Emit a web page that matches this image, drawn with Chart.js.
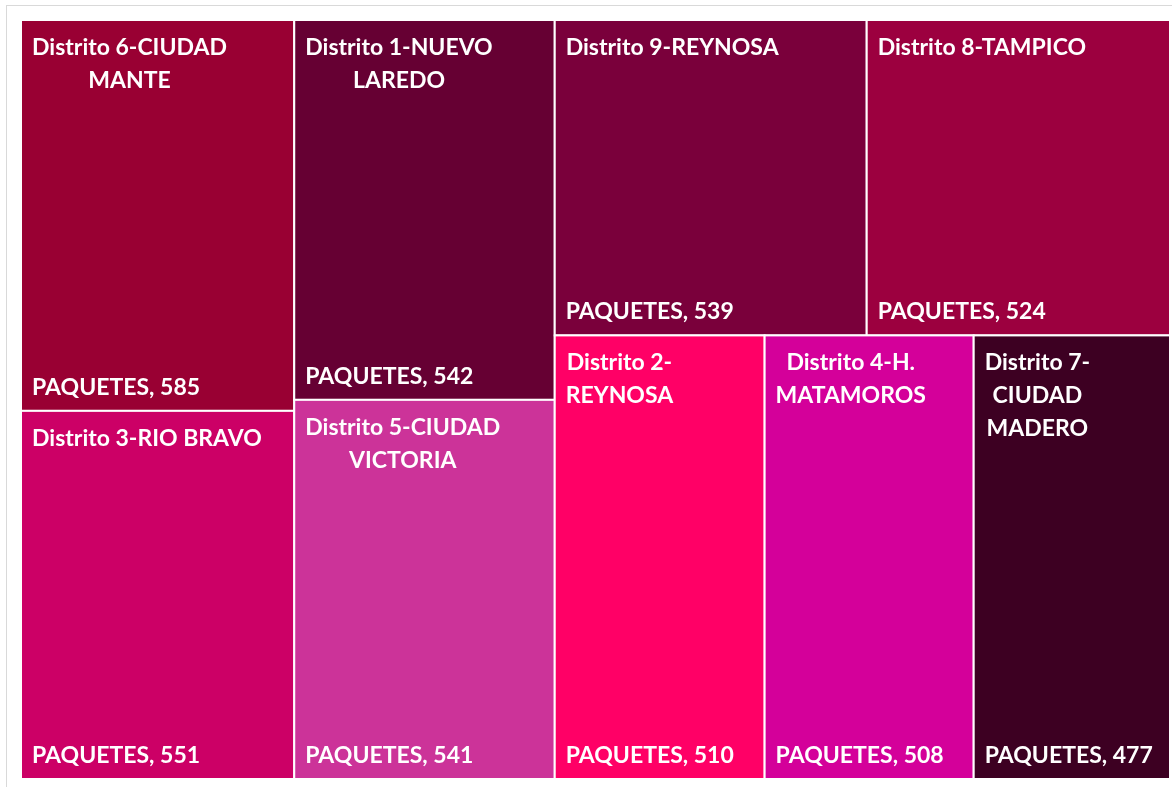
<!DOCTYPE html>
<html>
<head>
<meta charset="utf-8">
<script src="https://cdn.jsdelivr.net/npm/chart.js@4/dist/chart.umd.min.js"></script>
<style>
    html, body { margin: 0; padding: 0; background: #fff; }
    #frame { position: absolute; left: 6px; top: 5px; width: 1200px; height: 800px; border: 1px solid #d9d9d9; }
    #wrap { position: absolute; left: 0; top: 0; width: 1172px; height: 787px; }
</style>
</head>
<body>
<div id="frame"></div>
<div id="wrap"><canvas id="treemap"></canvas></div>
<script>
// data
const districts = [
    'Distrito 6-CIUDAD MANTE',
    'Distrito 3-RIO BRAVO',
    'Distrito 1-NUEVO LAREDO',
    'Distrito 5-CIUDAD VICTORIA',
    'Distrito 9-REYNOSA',
    'Distrito 8-TAMPICO',
    'Distrito 2-REYNOSA',
    'Distrito 4-H. MATAMOROS',
    'Distrito 7-CIUDAD MADERO'
];
const paquetes = [585, 551, 542, 541, 539, 524, 510, 508, 477];
const seriesName = 'PAQUETES';
const cellColors = ['#990033', '#cc0066', '#660033', '#cc3399', '#7a003b', '#9c003f', '#ff0066', '#d4009a', '#3d0022'];

const FONT = 'bold 23px Lato, "Open Sans", sans-serif';

// squarified layout, worked out in pixel units of the chart area
function squarify(values, W, H) {
    const total = values.reduce((a, b) => a + b, 0);
    const items = values.map((v, i) => ({ i: i, a: v * W * H / total }))
        .sort((p, q) => q.a - p.a);
    const out = [];
    let rect = { x: 0, y: 0, w: W, h: H };
    let k = 0;

    function worst(row, side) {
        const s = row.reduce((a, r) => a + r.a, 0);
        const mx = Math.max(...row.map(r => r.a));
        const mn = Math.min(...row.map(r => r.a));
        return Math.max(side * side * mx / (s * s), (s * s) / (side * side * mn));
    }

    while (k < items.length) {
        const left = items.length - k;
        let row, alongLong = false;
        if (left <= 3) {
            // last few cells go side by side across the longer side
            row = items.slice(k);
            alongLong = true;
        } else {
            const side = Math.min(rect.w, rect.h);
            row = [items[k]];
            let j = k + 1;
            while (j < items.length) {
                const next = row.concat([items[j]]);
                if (worst(next, side) > worst(row, side)) break;
                row = next;
                j++;
            }
        }
        const s = row.reduce((a, r) => a + r.a, 0);
        // vertical strip when the strip runs along the height
        const vertical = alongLong ? rect.w < rect.h : rect.w >= rect.h;
        if (vertical) {
            const tw = s / rect.h;
            let y = rect.y;
            row.forEach(r => {
                const hh = r.a / tw;
                out[r.i] = { x: rect.x, y: y, w: tw, h: hh };
                y += hh;
            });
            rect = { x: rect.x + tw, y: rect.y, w: rect.w - tw, h: rect.h };
        } else {
            const th = s / rect.w;
            let x = rect.x;
            row.forEach(r => {
                const ww = r.a / th;
                out[r.i] = { x: x, y: rect.y, w: ww, h: th };
                x += ww;
            });
            rect = { x: rect.x, y: rect.y + th, w: rect.w, h: rect.h - th };
        }
        k += row.length;
    }
    return out;
}

// break a label into lines that fit, at spaces and after hyphens
function wrapLabel(ctx, text, maxW) {
    const parts = text.match(/[^\s-]+-?|\s+/g) || [];
    const lines = [];
    let cur = '';
    parts.forEach(p => {
        if (/^\s+$/.test(p)) { cur += p; return; }
        const test = cur + p;
        if (cur.trim() !== '' && ctx.measureText(test.trim()).width > maxW) {
            lines.push(cur.trim());
            cur = p;
        } else {
            cur = test;
        }
    });
    if (cur.trim() !== '') lines.push(cur.trim());
    return lines;
}

const treemapPlugin = {
    id: 'treemapCells',
    afterDatasetsDraw(chart) {
        const ctx = chart.ctx;
        const xs = chart.scales.x, ys = chart.scales.y;
        const area = chart.chartArea;
        const W = area.right - area.left, H = area.bottom - area.top;
        const cells = squarify(paquetes, W, H);

        ctx.save();
        cells.forEach((c, i) => {
            const x0 = xs.getPixelForValue(c.x / W), x1 = xs.getPixelForValue((c.x + c.w) / W);
            const y0 = ys.getPixelForValue(c.y / H), y1 = ys.getPixelForValue((c.y + c.h) / H);
            ctx.fillStyle = cellColors[i];
            ctx.fillRect(x0, y0, x1 - x0, y1 - y0);
            ctx.strokeStyle = '#ffffff';
            ctx.lineWidth = 2;
            ctx.strokeRect(x0, y0, x1 - x0, y1 - y0);

            ctx.fillStyle = '#ffffff';
            ctx.font = FONT;
            ctx.textBaseline = 'alphabetic';
            ctx.textAlign = 'left';
            const lines = wrapLabel(ctx, districts[i], (x1 - x0) - 24);
            const blockW = Math.max(...lines.map(l => ctx.measureText(l).width));
            lines.forEach((l, n) => {
                const lw = ctx.measureText(l).width;
                ctx.fillText(l, x0 + 11 + (blockW - lw) / 2, y0 + 35 + n * 33);
            });
            ctx.fillText(seriesName + ', ' + paquetes[i], x0 + 11, y1 - 16);
        });
        ctx.restore();
    }
};

const chart = new Chart(document.getElementById('treemap'), {
    type: 'scatter',
    data: {
        datasets: [{
            label: seriesName,
            data: []
        }]
    },
    options: {
        responsive: true,
        maintainAspectRatio: false,
        animation: false,
        layout: {
            padding: { left: 21, top: 20, right: 2, bottom: 8 }
        },
        plugins: {
            legend: { display: false },
            tooltip: { enabled: false },
            title: { display: false }
        },
        scales: {
            x: { type: 'linear', min: 0, max: 1, display: false },
            y: { type: 'linear', min: 0, max: 1, reverse: true, display: false }
        }
    },
    plugins: [treemapPlugin]
});
</script>
</body>
</html>
